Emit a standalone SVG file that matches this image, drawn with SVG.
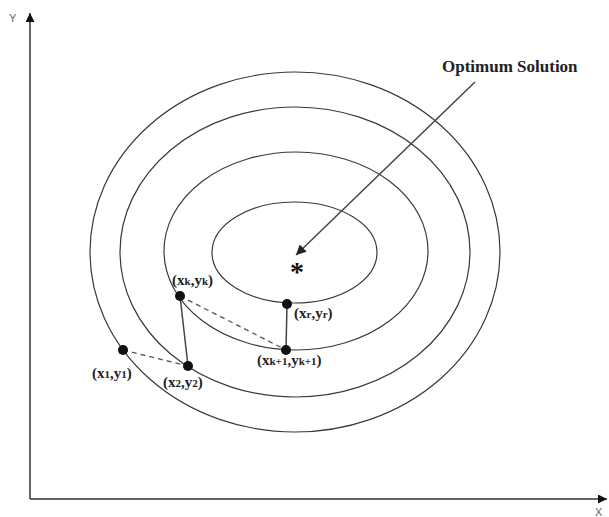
<svg xmlns="http://www.w3.org/2000/svg" width="609" height="517" viewBox="0 0 609 517">
<style>
.contour{fill:none;stroke:#3a3a3a;stroke-width:1.2}
.axis{stroke:#333;stroke-width:1.5;fill:none}
.solid{stroke:#444;stroke-width:1.5;fill:none}
.dash{stroke:#555;stroke-width:1.3;stroke-dasharray:5,4;fill:none}
.dot{fill:#111}
.lbl{font-family:"Liberation Serif","Times New Roman",serif;font-size:15px;font-weight:bold;fill:#222}
.sub{font-size:11px}
.ax{font-family:"Liberation Sans",Arial,sans-serif;font-size:11px;fill:#666}
</style>
<defs>
<marker id="ah" viewBox="0 0 10 10" refX="10" refY="5" markerWidth="10" markerHeight="10" markerUnits="userSpaceOnUse" orient="auto">
<path d="M0,0 L10,5 L0,10 z" fill="#222"/>
</marker>
<marker id="ah2" viewBox="0 0 10 10" refX="10" refY="5" markerWidth="11" markerHeight="9" markerUnits="userSpaceOnUse" orient="auto">
<path d="M0,0 L10,5 L0,10 z" fill="#111"/>
</marker>
</defs>
<rect width="609" height="517" fill="#fff"/>
<g id="axes">
<line class="axis" x1="30" y1="499" x2="30" y2="13" marker-end="url(#ah2)"/>
<line class="axis" x1="30" y1="499" x2="607" y2="499" marker-end="url(#ah2)"/>
<text class="ax" x="9" y="22">Y</text>
<text class="ax" x="595" y="516">X</text>
</g>
<g id="contours">
<ellipse class="contour" cx="295" cy="252" rx="205" ry="180"/>
<ellipse class="contour" cx="295" cy="252" rx="175" ry="145"/>
<ellipse class="contour" cx="296" cy="251" rx="132" ry="99"/>
<ellipse class="contour" cx="294.5" cy="252.5" rx="82.5" ry="50.5"/>
</g>
<g id="connectors">
<line class="dash" x1="123" y1="350" x2="188" y2="366"/>
<line class="solid" x1="180" y1="296" x2="188" y2="366"/>
<line class="dash" x1="180" y1="296" x2="286" y2="350"/>
<line class="solid" x1="287" y1="304" x2="286" y2="350"/>
<line class="solid" x1="475" y1="82" x2="296" y2="255" marker-end="url(#ah)"/>
</g>
<g id="optimum">
<text class="lbl" x="442" y="72" style="font-size:17px">Optimum Solution</text>
<text x="297" y="281" text-anchor="middle" style="font-family:'Liberation Serif',serif;font-size:28px;font-weight:bold;fill:#111">*</text>
</g>
<g id="p1">
<circle class="dot" cx="123" cy="350" r="5"/>
<text class="lbl" x="92" y="378">(x<tspan class="sub">1</tspan>,y<tspan class="sub">1</tspan>)</text>
</g>
<g id="p2">
<circle class="dot" cx="188" cy="366" r="5"/>
<text class="lbl" x="163" y="387">(x<tspan class="sub">2</tspan>,y<tspan class="sub">2</tspan>)</text>
</g>
<g id="pk">
<circle class="dot" cx="180" cy="296" r="5"/>
<text class="lbl" x="172" y="285">(x<tspan class="sub">k</tspan>,y<tspan class="sub">k</tspan>)</text>
</g>
<g id="pk1">
<circle class="dot" cx="286" cy="350" r="5"/>
<text class="lbl" x="257" y="365">(x<tspan class="sub">k+1</tspan>,y<tspan class="sub">k+1</tspan>)</text>
</g>
<g id="pr">
<circle class="dot" cx="287" cy="304" r="5"/>
<text class="lbl" x="294" y="318">(x<tspan class="sub">r</tspan>,y<tspan class="sub">r</tspan>)</text>
</g>
</svg>
